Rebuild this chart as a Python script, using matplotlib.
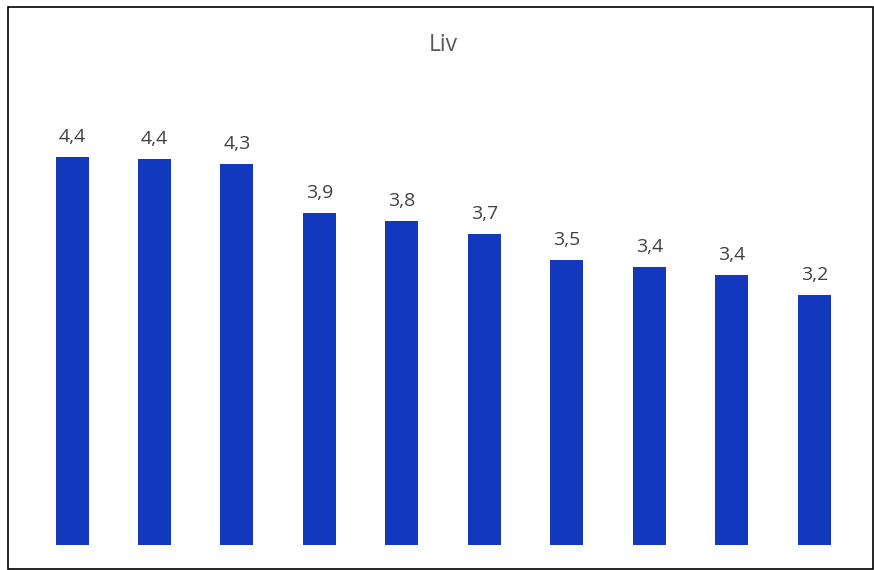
import matplotlib
matplotlib.use("Agg")
import matplotlib.pyplot as plt
from matplotlib.patches import Rectangle

categories = ["1", "2", "3", "4", "5", "6", "7", "8", "9", "10"]
values = [4.37, 4.355, 4.31, 3.89, 3.82, 3.70, 3.48, 3.42, 3.35, 3.17]
title = "Liv"

plt.rcParams['font.family'] = ['Open Sans', 'DejaVu Sans']

fig = plt.figure(figsize=(8.74, 5.70), dpi=100)
ax = fig.add_axes([0.0352, 0.0439, 0.9438, 0.807])
x = list(range(len(categories)))
ax.bar(x, values, width=0.4, color="#1238BE")
ax.set_xlim(-0.5, len(categories) - 0.5)
ax.set_ylim(1, 5)
for xi, v in zip(x, values):
    lab = f"{v:.1f}".replace(".", ",")
    ax.annotate(lab, (xi, v), xytext=(0, 8),
                textcoords="offset points", ha="center", va="bottom",
                fontsize=14, color="#404040")
ax.axis("off")
fig.text(0.507, 0.921, title, ha="center", va="center", fontsize=16.5, color="#595959")
fig.patches.append(Rectangle((7.5/874, 1.5/570), 865/874, 562/570, transform=fig.transFigure,
                             fill=False, edgecolor="black", linewidth=1.2))
fig.savefig("out.png", dpi=100)
